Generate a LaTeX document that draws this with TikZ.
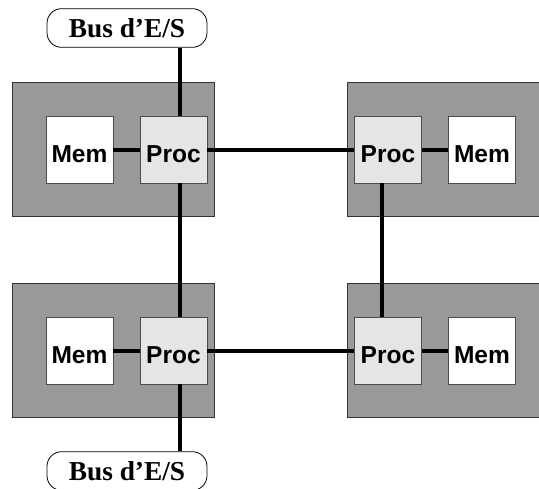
\documentclass[tikz,border=0pt]{standalone}
\usepackage{fontspec}
\setmainfont{Liberation Serif}
\setsansfont{Liberation Sans}
\usetikzlibrary{positioning}

\tikzset{
  board/.style={draw=black!80, fill=black!40, line width=0.6pt, inner sep=0pt,
    minimum width=151.5pt, minimum height=100.5pt},
  mem/.style={draw=black!70, fill=white, line width=0.6pt, inner sep=0pt,
    minimum width=50.25pt, minimum height=50.25pt, text height=20pt, text depth=0pt,
    font=\sffamily\bfseries\fontsize{18.4}{20}\selectfont},
  proc/.style={mem, fill=black!10},
  bus/.style={draw, line width=0.6pt, rounded corners=11pt, inner sep=0pt,
    minimum width=120pt, minimum height=29pt,
    font=\bfseries\fontsize{20.5}{22}\selectfont},
  link/.style={line width=3pt}
}

\begin{document}
\begin{tikzpicture}[x=0.75pt,y=-0.75pt]
  \useasboundingbox (0,0) rectangle (539,489);
  % cartes
  \node[board] (boardTL) at (113,149) {};
  \node[board] (boardBL) at (113,350) {};
  \node[board, minimum width=146pt] (boardTR) at (444.5,149) {};
  \node[board, minimum width=146pt] (boardBR) at (444.5,350) {};
  % memoires et processeurs
  \node[mem] (memTL) at (79.5,149.5) {Mem};
  \node[proc] (procTL) at (173.5,149.5) {Proc};
  \node[proc] (procTR) at (388,149.5) {Proc};
  \node[mem] (memTR) at (482,149.5) {Mem};
  \node[mem] (memBL) at (79.5,350.5) {Mem};
  \node[proc] (procBL) at (173.5,350.5) {Proc};
  \node[proc] (procBR) at (388,350.5) {Proc};
  \node[mem] (memBR) at (482,350.5) {Mem};
  % bus
  \node[bus] (busT) at (127,28) {Bus d'E/S};
  \node[bus] (busB) at (127,471) {Bus d'E/S};
  % liaisons
  \draw[link] (memTL) -- (procTL);
  \draw[link] (procTL) -- (procTR);
  \draw[link] (procTR) -- (memTR);
  \draw[link] (memBL) -- (procBL);
  \draw[link] (procBL) -- (procBR);
  \draw[link] (procBR) -- (memBR);
  \draw[link] ([xshift=4.9pt]procTL.north) -- ([xshift=4.9pt]procTL.north |- busT.south);
  \draw[link] ([xshift=4.9pt]procTL.south) -- ([xshift=4.9pt]procBL.north);
  \draw[link] ([xshift=4.9pt]procBL.south) -- ([xshift=4.9pt]procBL.south |- busB.north);
  \draw[link] ([xshift=-4.5pt]procTR.south) -- ([xshift=-4.5pt]procBR.north);
\end{tikzpicture}
\end{document}
